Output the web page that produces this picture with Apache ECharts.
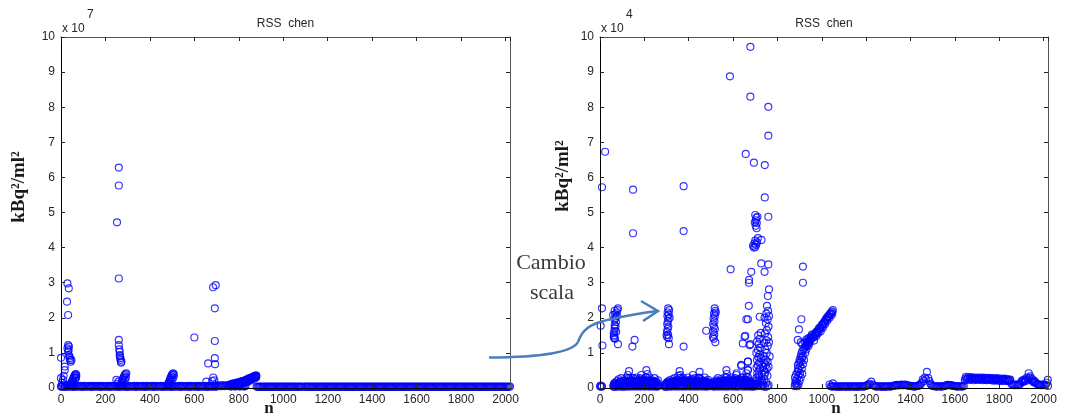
<!DOCTYPE html>
<html><head><meta charset="utf-8">
<script src="https://cdn.jsdelivr.net/npm/echarts@6/dist/echarts.min.js"></script>
<style>html,body{margin:0;padding:0;background:#fff}#c{width:1065px;height:418px}</style>
</head><body><div id="c"></div>
<script>
// ---------- texts ----------
const titleText = 'RSS  chen';
const yLabelText = 'kBq\u00B2/ml\u00B2';
const xLabelText = 'n';
const leftExp = '7';   // left values in units of 1e7
const rightExp = '4';  // right values in units of 1e4
const noteLines = ['Cambio', 'scala'];
const xMin = 0, xMax = 2020, xStep = 200;
const yMin = 0, yMax = 10, yStep = 1;

// ---------- LEFT chart data (x = n, y = value / 1e7) ----------
const leftBase = [
[0,0.04],[10,0.06],[20,0.03],[30,0.05],[40,0.04],[50,0.06],[60,0.03],[70,0.05],[80,0.04],[90,0.06],
[100,0.03],[110,0.05],[120,0.04],[130,0.06],[140,0.03],[150,0.05],[160,0.04],[170,0.06],[180,0.03],[190,0.05],
[200,0.04],[210,0.06],[220,0.03],[230,0.05],[240,0.04],[250,0.06],[260,0.03],[270,0.05],[280,0.04],[290,0.06],
[300,0.03],[310,0.05],[320,0.04],[330,0.06],[340,0.03],[350,0.05],[360,0.04],[370,0.06],[380,0.03],[390,0.05],
[400,0.04],[410,0.06],[420,0.03],[430,0.05],[440,0.04],[450,0.06],[460,0.03],[470,0.05],[480,0.04],[490,0.06],
[500,0.03],[510,0.05],[520,0.04],[530,0.06],[540,0.03],[550,0.05],[560,0.04],[570,0.06],[580,0.03],[590,0.05],
[600,0.04],[610,0.06],[620,0.03],[630,0.05],[640,0.04],[650,0.06],[660,0.03],[670,0.05],[680,0.04],[690,0.06],
[700,0.05],[710,0.07],[720,0.05],[730,0.07],[740,0.06],[750,0.08],[760,0.05],[770,0.06],[780,0.05],[790,0.06],
[800,0.05],[810,0.06],[820,0.05],[830,0.06],
[880,0.04],[890,0.03],[900,0.04],[910,0.03],[920,0.04],[930,0.03],[940,0.04],[950,0.03],[960,0.04],[970,0.03],
[980,0.04],[990,0.03],[1000,0.04],[1010,0.03],[1020,0.04],[1030,0.03],[1040,0.04],[1050,0.03],[1060,0.04],[1070,0.03],
[1080,0.04],[1090,-0.04],[1100,0.04],[1110,0.03],[1120,0.04],[1130,0.03],[1140,0.04],[1150,0.03],[1160,0.04],[1170,0.03],
[1180,0.04],[1190,0.03],[1200,0.04],[1210,0.03],[1220,0.04],[1230,0.03],[1240,0.04],[1250,0.03],[1260,0.04],[1270,0.03],
[1280,0.04],[1290,0.03],[1300,0.04],[1310,0.03],[1320,0.04],[1330,0.03],[1340,0.04],[1350,0.03],[1360,0.04],[1370,0.03],
[1380,0.04],[1390,0.03],[1400,0.04],[1410,0.03],[1420,0.04],[1430,0.03],[1440,0.04],[1450,0.03],[1460,0.04],[1470,0.03],
[1480,0.04],[1490,0.03],[1500,0.04],[1510,0.03],[1520,0.04],[1530,0.03],[1540,0.04],[1550,0.03],[1560,0.04],[1570,0.03],
[1580,0.04],[1590,0.03],[1600,0.04],[1610,0.03],[1620,0.04],[1630,0.03],[1640,0.04],[1650,0.03],[1660,0.04],[1670,0.03],
[1680,0.04],[1690,0.03],[1700,0.04],[1710,0.03],[1720,0.04],[1730,0.03],[1740,0.04],[1750,0.03],[1760,0.04],[1770,0.03],
[1780,0.04],[1790,0.03],[1800,0.04],[1810,0.03],[1820,0.04],[1830,0.03],[1840,0.04],[1850,0.03],[1860,0.04],[1870,0.03],
[1880,0.04],[1890,0.03],[1900,0.04],[1910,0.03],[1920,0.04],[1930,0.03],[1940,0.04],[1950,0.03],[1960,0.04],[1970,0.03],
[1980,0.04],[1990,0.03],[2000,0.04],[2010,0.03],[2020,0.04]
];
const leftBaseMid = [
[5,0.05],[15,0.03],[25,0.06],[35,0.04],[45,0.05],[55,0.03],[65,0.06],[75,0.04],[85,0.05],[95,0.03],
[105,0.06],[115,0.04],[125,0.05],[135,0.03],[145,0.06],[155,0.04],[165,0.05],[175,0.03],[185,0.06],[195,0.04],
[205,0.05],[215,0.03],[225,0.06],[235,0.04],[245,0.05],[255,0.03],[265,0.06],[275,0.04],[285,0.05],[295,0.03],
[305,0.06],[315,0.04],[325,0.05],[335,0.03],[345,0.06],[355,0.04],[365,0.05],[375,0.03],[385,0.06],[395,0.04],
[405,0.05],[415,0.03],[425,0.06],[435,0.04],[445,0.05],[455,0.03],[465,0.06],[475,0.04],[485,0.05],[495,0.03],
[505,0.06],[515,0.04],[525,0.05],[535,0.03],[545,0.06],[555,0.04],[565,0.05],[575,0.03],[585,0.06],[595,0.04],
[605,0.05],[615,0.03],[625,0.06],[635,0.04],[645,0.05],[655,0.03],[665,0.06],[675,0.04],[685,0.05],[695,0.03],
[705,0.06],[715,0.05],[725,0.08],[735,0.05],[745,0.07],[755,0.06],[765,0.04],[775,0.07],[785,0.04],[795,0.07],
[805,0.04],[815,0.07],[825,0.04],
[885,0.03],[895,0.04],[905,0.03],[915,0.04],[925,0.03],[935,0.04],[945,0.03],[955,0.04],[965,0.03],[975,0.04],
[985,0.03],[995,0.04],[1005,0.03],[1015,0.04],[1025,0.03],[1035,0.04],[1045,0.03],[1055,0.04],[1065,0.03],[1075,0.04],
[1085,0.03],[1095,0.04],[1105,0.03],[1115,0.04],[1125,0.03],[1135,0.04],[1145,0.03],[1155,0.04],[1165,0.03],[1175,0.04],
[1185,0.03],[1195,0.04],[1205,0.03],[1215,0.04],[1225,0.03],[1235,0.04],[1245,0.03],[1255,0.04],[1265,0.03],[1275,0.04],
[1285,0.03],[1295,0.04],[1305,0.03],[1315,0.04],[1325,0.03],[1335,0.04],[1345,0.03],[1355,0.04],[1365,0.03],[1375,0.04],
[1385,0.03],[1395,0.04],[1405,0.03],[1415,0.04],[1425,0.03],[1435,0.04],[1445,0.03],[1455,0.04],[1465,0.03],[1475,0.04],
[1485,0.03],[1495,0.04],[1505,0.03],[1515,0.04],[1525,0.03],[1535,0.04],[1545,0.03],[1555,0.04],[1565,0.03],[1575,0.04],
[1585,0.03],[1595,0.04],[1605,0.03],[1615,0.04],[1625,0.03],[1635,0.04],[1645,0.03],[1655,0.04],[1665,0.03],[1675,0.04],
[1685,0.03],[1695,0.04],[1705,0.03],[1715,0.04],[1725,0.03],[1735,0.04],[1745,0.03],[1755,0.04],[1765,0.03],[1775,0.04],
[1785,0.03],[1795,0.04],[1805,0.03],[1815,0.04],[1825,0.03],[1835,0.04],[1845,0.03],[1855,0.04],[1865,0.03],[1875,0.04],
[1885,0.03],[1895,0.04],[1905,0.03],[1915,0.04],[1925,0.03],[1935,0.04],[1945,0.03],[1955,0.04],[1965,0.03],[1975,0.04],
[1985,0.03],[1995,0.04],[2005,0.03],[2015,0.04]
];
const leftPts = [
[0,0.86],[2,0.04],[0,0.28],[9,0.23],[17,0.61],[17,0.51],[24,0.09],[5,0.15],[12,0.35],
[29,2.98],[35,2.84],[27,2.46],[32,2.08],[32,1.22],[29,1.13],[32,1.04],[35,0.94],[39,0.85],[44,0.75],[36,1.18],[38,0.9],[41,0.8],[47,0.8],[34,1.08],
[40,0.06],[43,0.1],[46,0.14],[49,0.18],[52,0.22],[55,0.27],[58,0.31],[61,0.35],[64,0.38],[67,0.4],[69,0.36],[44,0.05],[50,0.1],[56,0.15],[62,0.22],[66,0.28],[68,0.3],
[252,4.72],[260,6.28],[260,5.77],[260,3.12],[260,1.37],[260,1.22],[262,1.1],[264,1.03],[264,0.94],[266,0.9],[267,0.85],[268,0.8],[272,0.75],[270,0.72],[249,0.23],[254,0.12],[258,0.18],
[266,0.06],[269,0.1],[272,0.15],[275,0.2],[278,0.25],[281,0.29],[284,0.33],[287,0.37],[290,0.4],[294,0.42],[270,0.05],[276,0.1],[282,0.16],[288,0.24],[292,0.3],
[478,0.06],[481,0.1],[484,0.14],[487,0.19],[490,0.24],[493,0.29],[496,0.33],[499,0.37],[502,0.4],[505,0.42],[508,0.38],[482,0.05],[488,0.1],[494,0.18],[500,0.25],[506,0.3],
[600,1.44],[662,0.7],[684,2.87],[696,2.93],[692,2.27],[692,1.34],[692,0.85],[693,0.68],[654,0.18],[685,0.3],[690,0.22],[680,0.2],[695,0.1],
[760,0.09],[765,0.1],[770,0.11],[775,0.1],[780,0.12],[785,0.13],[790,0.12],[795,0.14],[800,0.15],[805,0.16],[810,0.17],[815,0.18],[820,0.19],[825,0.2],[830,0.22],[835,0.23],[840,0.24],[845,0.26],[850,0.27],[855,0.29],[860,0.3],[865,0.31],[870,0.33],[875,0.34],[879,0.35],
[800,0.1],[810,0.12],[820,0.14],[830,0.16],[840,0.18],[850,0.21],[860,0.24],[870,0.27],[878,0.3],
[762,0.07],[772,0.08],[782,0.09],[792,0.1],[802,0.12],[812,0.14],[822,0.16],[832,0.19],[842,0.21],[852,0.24],[862,0.27],[872,0.3],[876,0.32],
[767,0.12],[777,0.13],[787,0.15],[797,0.16],[807,0.18],[817,0.2],[827,0.22],[837,0.25],[847,0.28],[857,0.3],[867,0.33],[877,0.36]
];

// ---------- RIGHT chart data (x = n, y = value / 1e4) ----------
const rightBase = [
[0,0.05],[3,0.07],[6,0.03],[9,0.05],
[1035,0.1],[1040,0.05],[1050,0.04],[1060,0.05],[1070,0.03],[1080,0.05],[1090,0.04],[1100,0.05],[1110,0.03],[1120,0.05],[1130,0.04],
[1140,0.05],[1150,0.03],[1160,0.05],[1170,0.04],[1180,0.05],[1190,0.04],[1200,0.06],[1210,0.1],[1215,0.12],[1223,0.18],[1230,0.1],[1240,0.05],
[1250,0.04],[1260,0.05],[1270,0.03],[1280,0.05],[1290,0.04],[1300,0.05],[1310,0.04],[1320,0.06],[1330,0.07],[1340,0.09],[1350,0.08],[1360,0.1],
[1370,0.08],[1380,0.09],[1390,0.07],[1400,0.06],[1410,0.05],[1420,0.04],[1430,0.06],[1440,0.08],[1450,0.15],[1456,0.25],[1460,0.2],[1465,0.3],
[1470,0.25],[1474,0.46],[1480,0.28],[1485,0.2],[1490,0.12],[1500,0.06],[1510,0.05],[1520,0.04],[1530,0.05],[1540,0.04],[1550,0.05],[1560,0.07],
[1570,0.09],[1580,0.08],[1590,0.07],[1600,0.05],[1610,0.04],[1620,0.05],[1630,0.04],[1640,0.06],
[1645,0.22],[1650,0.32],[1655,0.25],[1660,0.3],[1665,0.23],[1670,0.31],[1675,0.24],[1680,0.3],[1685,0.22],[1690,0.3],[1695,0.24],[1700,0.29],
[1705,0.23],[1710,0.3],[1715,0.24],[1720,0.29],[1725,0.22],[1730,0.3],[1735,0.23],[1740,0.28],[1745,0.22],[1750,0.29],[1755,0.23],[1760,0.28],
[1765,0.22],[1770,0.28],[1775,0.21],[1780,0.27],[1785,0.22],[1790,0.28],[1795,0.21],[1800,0.27],[1805,0.2],[1810,0.26],[1815,0.21],[1820,0.27],
[1825,0.2],[1830,0.26],[1835,0.2],[1840,0.25],[1845,0.2],[1850,0.24],
[1860,0.1],[1870,0.08],[1880,0.1],[1890,0.09],[1900,0.18],[1905,0.22],[1910,0.2],[1915,0.25],[1920,0.2],[1925,0.3],[1933,0.42],[1940,0.33],
[1945,0.22],[1950,0.25],[1955,0.18],[1960,0.2],[1970,0.12],[1980,0.1],[1990,0.08],[2000,0.1],[2010,0.09],[2015,0.15],[2019,0.23],[2020,0.06]
];
const rightBaseMid = [
[1045,0.04],[1055,0.05],[1065,0.04],[1075,0.05],[1085,0.03],[1095,0.05],[1105,0.04],[1115,0.05],[1125,0.03],[1135,0.05],[1145,0.04],
[1155,0.05],[1165,0.03],[1175,0.05],[1185,0.04],[1195,0.05],[1205,0.08],[1235,0.07],[1245,0.04],[1255,0.05],[1265,0.04],[1275,0.05],
[1285,0.03],[1295,0.05],[1305,0.04],[1315,0.05],[1325,0.06],[1335,0.08],[1345,0.07],[1355,0.09],[1365,0.08],[1375,0.1],[1385,0.07],
[1395,0.06],[1405,0.05],[1415,0.04],[1425,0.05],[1435,0.06],[1445,0.1],[1495,0.08],[1505,0.05],[1515,0.04],[1525,0.05],[1535,0.04],
[1545,0.05],[1555,0.06],[1565,0.08],[1575,0.08],[1585,0.07],[1595,0.06],[1605,0.05],[1615,0.04],[1625,0.05],[1635,0.04],
[1648,0.27],[1658,0.28],[1668,0.27],[1678,0.27],[1688,0.26],[1698,0.27],[1708,0.26],[1718,0.26],[1728,0.26],[1738,0.25],[1748,0.26],
[1758,0.25],[1768,0.25],[1778,0.24],[1788,0.25],[1798,0.24],[1808,0.23],[1818,0.24],[1828,0.23],[1838,0.22],[1848,0.22],
[1855,0.12],[1865,0.09],[1875,0.1],[1885,0.08],[1895,0.12],[1908,0.17],[1918,0.22],[1928,0.25],[1938,0.28],[1950,0.2],[1958,0.16],
[1965,0.14],[1975,0.1],[1985,0.09],[1995,0.1],[2005,0.08]
];
const rightBlob1 = [
[60,0.04],[64,0.1],[66,0.03],[70,0.15],[72,0.05],[76,0.2],[78,0.04],[82,0.12],[84,0.25],[86,0.05],[90,0.18],[92,0.04],[96,0.28],[98,0.1],
[100,0.05],[104,0.2],[106,0.03],[110,0.14],[112,0.22],[114,0.05],[118,0.1],[120,0.3],[122,0.04],[126,0.37],[128,0.15],[130,0.05],[131,0.48],
[134,0.22],[136,0.04],[140,0.3],[142,0.12],[144,0.05],[148,0.2],[150,0.28],[152,0.04],[156,0.15],[158,0.25],[160,0.05],[164,0.3],[166,0.1],
[168,0.04],[172,0.22],[174,0.12],[176,0.05],[180,0.28],[182,0.15],[184,0.04],[186,0.37],[188,0.2],[192,0.1],[194,0.05],[198,0.25],[200,0.14],
[202,0.04],[206,0.3],[209,0.51],[210,0.15],[212,0.05],[214,0.4],[216,0.22],[218,0.1],[220,0.04],[224,0.3],[226,0.15],[228,0.05],[232,0.22],
[234,0.1],[236,0.04],[240,0.2],[242,0.12],[244,0.05],[246,0.28],[248,0.15],[250,0.04],[254,0.18],[256,0.08],[258,0.04],[261,0.22],[262,0.05],
[61,0.08],[65,0.14],[69,0.08],[73,0.1],[77,0.12],[81,0.07],[85,0.15],[89,0.1],[93,0.13],[97,0.18],[101,0.1],[105,0.12],[109,0.08],[113,0.15],
[117,0.18],[121,0.1],[125,0.2],[129,0.28],[133,0.12],[137,0.16],[141,0.2],[145,0.12],[149,0.15],[153,0.1],[157,0.18],[161,0.14],[165,0.2],
[169,0.12],[173,0.16],[177,0.2],[181,0.1],[185,0.24],[189,0.14],[193,0.18],[197,0.12],[201,0.2],[205,0.16],[209,0.3],[213,0.2],[217,0.14],
[221,0.18],[225,0.2],[229,0.12],[233,0.16],[237,0.1],[241,0.14],[245,0.18],[249,0.1],[253,0.12],[257,0.14],[260,0.1]
];
const rightBlob2 = [
[291,0.04],[294,0.1],[297,0.03],[300,0.15],[302,0.05],[306,0.18],[308,0.04],[312,0.12],[314,0.22],[316,0.05],[320,0.15],[322,0.04],[326,0.25],
[328,0.1],[330,0.05],[334,0.2],[337,0.28],[339,0.04],[342,0.14],[345,0.22],[347,0.05],[350,0.12],[353,0.35],[355,0.04],[359,0.48],[360,0.2],
[362,0.37],[364,0.05],[368,0.25],[370,0.12],[372,0.04],[376,0.28],[378,0.15],[380,0.05],[384,0.22],[386,0.1],[388,0.04],[392,0.2],[394,0.12],
[397,0.3],[399,0.05],[403,0.18],[405,0.1],[407,0.04],[411,0.25],[413,0.14],[415,0.05],[419,0.37],[421,0.2],[423,0.08],[425,0.04],[429,0.28],
[431,0.15],[433,0.05],[437,0.22],[439,0.1],[441,0.04],[445,0.3],[449,0.46],[450,0.18],[452,0.05],[456,0.25],[458,0.12],[460,0.04],[464,0.2],
[466,0.1],[468,0.05],[472,0.3],[474,0.15],[476,0.04],[480,0.18],[482,0.08],[484,0.04],[487,0.23],[489,0.1],[492,0.05],[494,0.12],
[293,0.08],[298,0.1],[303,0.12],[309,0.15],[313,0.08],[318,0.12],[323,0.18],[327,0.14],[332,0.1],[336,0.16],[341,0.2],[344,0.1],[349,0.18],
[352,0.22],[357,0.15],[361,0.28],[366,0.18],[371,0.2],[375,0.12],[379,0.22],[383,0.14],[387,0.18],[391,0.12],[396,0.16],[401,0.22],[406,0.14],
[410,0.18],[414,0.1],[418,0.25],[422,0.14],[427,0.2],[432,0.12],[436,0.16],[440,0.2],[444,0.12],[448,0.28],[453,0.16],[457,0.2],[462,0.14],
[467,0.18],[471,0.12],[475,0.2],[479,0.1],[483,0.14],[488,0.16],[491,0.08]
];
const rightBlob3 = [
[505,0.05],[508,0.12],[511,0.04],[514,0.18],[516,0.08],[519,0.04],[522,0.15],[524,0.22],[527,0.05],[530,0.12],[532,0.28],[535,0.04],[538,0.18],
[540,0.1],[543,0.05],[546,0.25],[548,0.14],[551,0.04],[554,0.2],[556,0.1],[559,0.05],[562,0.3],[564,0.15],[567,0.04],[570,0.51],[572,0.4],
[573,0.2],[575,0.08],[578,0.04],[581,0.25],[583,0.12],[586,0.05],[589,0.18],[592,0.3],[594,0.1],[597,0.04],[600,0.22],[602,0.12],[605,0.05],
[608,0.28],[610,0.15],[613,0.04],[615,0.37],[616,0.42],[618,0.2],[620,0.08],[623,0.04],[626,0.25],[628,0.12],[631,0.05],[634,0.2],[637,0.63],
[639,0.3],[641,0.1],[643,0.04],[645,0.3],[647,0.15],[650,0.05],[653,0.22],[655,0.1],[658,0.04],[660,0.42],[661,0.32],[663,0.15],[665,0.05],
[667,0.51],[667,0.75],[669,0.2],[671,0.08],[674,0.04],[676,0.2],[678,0.1],[681,0.05],[684,0.15],[686,0.04],[690,0.1],[693,0.04],[696,0.12],
[699,0.05],[702,0.08],[637,0.66],
[507,0.08],[512,0.1],[517,0.14],[521,0.1],[526,0.16],[531,0.2],[536,0.12],[541,0.16],[545,0.12],[549,0.2],[553,0.12],[557,0.18],[561,0.22],
[566,0.14],[571,0.3],[576,0.16],[580,0.12],[584,0.18],[588,0.1],[591,0.22],[596,0.14],[599,0.1],[603,0.18],[607,0.12],[611,0.2],[614,0.24],
[619,0.14],[622,0.18],[627,0.16],[632,0.12],[636,0.24],[640,0.18],[644,0.14],[648,0.22],[652,0.12],[656,0.18],[659,0.24],[664,0.1],[668,0.3],
[672,0.14],[677,0.16],[682,0.1],[687,0.12],[692,0.08],[697,0.06]
];
const rightPts = [
[9,5.72],[23,6.73],[9,2.27],[3,1.77],[11,1.21],
[59,2.08],[62,1.46],[62,1.56],[66,2.2],[66,1.95],[66,1.8],[66,1.7],[66,1.62],[64,1.5],[64,1.42],[68,2.1],[70,2.0],[72,1.88],[75,2.15],[78,2.22],
[81,2.27],[81,1.25],[70,1.75],[73,1.6],[76,2.05],[68,1.4],
[149,5.65],[149,4.41],[146,1.18],[156,1.37],
[307,2.27],[312,2.22],[305,2.15],[310,2.1],[304,2.05],[309,1.98],[306,1.9],[303,1.82],[308,1.75],[305,1.68],[302,1.6],[307,1.52],[303,1.45],
[310,1.42],[300,1.5],[311,1.25],[314,2.0],
[377,5.75],[377,4.47],[377,1.18],
[517,2.27],[520,2.2],[514,2.12],[518,2.05],[512,1.98],[516,1.9],[510,1.82],[514,1.75],[518,1.68],[511,1.6],[515,1.52],[509,1.45],[520,1.3],
[513,1.4],[479,1.63],[522,2.15],
[586,8.88],[589,3.38],
[657,6.67],[678,9.72],[678,8.3],[694,6.42],[743,6.35],[743,5.43],[759,8.01],[759,7.19],[759,4.88],
[700,4.93],[705,4.85],[703,4.78],[707,4.7],[702,4.62],[706,4.55],[710,4.88],[698,4.72],
[690,4.05],[694,4.0],[697,4.12],[700,4.2],[704,4.08],[708,4.15],[712,4.27],[728,4.22],[700,4.02],
[727,3.55],[759,3.52],[742,3.31],[682,3.31],[672,3.08],[672,3.0],[762,2.81],[757,2.62],[753,2.34],[671,2.34],[720,2.03],[667,1.96],[660,1.96],
[652,1.46],[644,1.27],[675,1.22],[678,1.25],[655,1.49],[667,0.75],[667,0.51],
[708,0.12],[712,0.2],[705,0.28],[714,0.35],[709,0.42],[716,0.5],[706,0.58],[712,0.65],[718,0.72],[708,0.8],[714,0.88],[720,0.95],[705,1.0],
[712,1.08],[722,1.15],[716,1.25],[708,1.32],[720,1.4],[713,1.5],[725,1.57],[718,0.3],[722,0.55],[702,0.2],[725,0.85],
[735,0.6],[742,0.7],[748,0.8],[738,0.9],[752,1.0],[745,1.1],[756,1.2],[740,1.28],[750,1.36],[758,1.45],[744,1.55],[752,1.65],[760,1.75],
[748,1.85],[756,1.95],[762,2.05],[750,2.12],[758,2.2],[745,0.45],[755,0.35],[740,0.25],[760,0.6],[730,0.4],[750,0.15],[735,0.1],[725,0.05],
[745,0.03],[760,0.08],[765,0.9],[762,1.3],[742,2.0],
[710,0.05],[715,0.1],[720,0.18],[728,0.22],[732,0.15],[738,0.05],[755,0.05],[742,0.38],[752,0.55],[748,0.65],[756,0.75],[740,0.5],
[915,3.46],[915,3.0],[908,1.96],[897,1.67],[892,1.37],[905,1.3],[912,1.25],
[878,0.05],[880,0.12],[882,0.2],[879,0.3],[885,0.08],[888,0.25],[884,0.38],[890,0.45],[887,0.15],[893,0.55],[895,0.35],[892,0.65],[898,0.72],
[896,0.5],[900,0.8],[903,0.62],[905,0.9],[902,0.42],[908,0.98],[906,0.75],[910,0.55],[912,1.05],[910,0.85],[915,0.68],[918,1.1],[915,0.9],
[920,0.8],[922,1.15],[925,1.0],[928,1.2],[930,1.1],[935,1.25],[940,1.2],[944,1.3],[890,0.05],[895,0.1],[900,0.2],[905,0.3],[912,0.4],
[925,1.3],[930,1.38],[935,1.33],[940,1.42],[945,1.36],[950,1.45],[955,1.4],[960,1.5],[965,1.45],[970,1.55],[975,1.6],[980,1.58],[985,1.68],
[990,1.72],[995,1.7],[1000,1.8],[1005,1.82],[1010,1.88],[1015,1.92],[1020,1.98],[1025,2.02],[1030,2.05],[1035,2.1],[1040,2.13],[1045,2.18],
[1050,2.22],[935,1.22],[945,1.28],[955,1.52],[965,1.35],[975,1.48],[985,1.57],[995,1.62],[1005,1.72],[1015,1.82],[1025,1.92],[1035,2.0],
[1045,2.08],[1050,0.13],
[932,1.3],[942,1.35],[952,1.42],[962,1.46],[972,1.52],[982,1.62],[992,1.68],[1002,1.76],[1012,1.85],[1022,1.95],[1032,2.04],[1042,2.12],[1048,2.15]
];

// ---------- chart ----------
const chart = echarts.init(document.getElementById('c'), null, {renderer: 'canvas', width: 1065, height: 418});
const txtCol = '#262626';
const grids = [
  {left: 61, top: 37, width: 449, height: 351},
  {left: 600, top: 37, width: 448, height: 351}
];
function xAxes(gi) {
  const base = {gridIndex: gi, type: 'value', min: xMin, max: xMax, interval: xStep, splitLine: {show: false}, z: 10,
    axisTick: {inside: true, length: 4, lineStyle: {color: txtCol}}};
  return [
    Object.assign({}, base, {position: 'bottom', axisLine: {onZero: false, lineStyle: {color: '#000', width: 1}},
      axisLabel: {color: txtCol, fontSize: 12, fontFamily: 'Liberation Sans', margin: 6, showMaxLabel: false,
        formatter: function (v) { return String(v); }}}),
    Object.assign({}, base, {position: 'top', axisLine: {onZero: false, lineStyle: {color: '#555', width: 1}}, axisLabel: {show: false}})
  ];
}
function yAxes(gi) {
  const base = {gridIndex: gi, type: 'value', min: yMin, max: yMax, interval: yStep, splitLine: {show: false}, z: 10,
    axisTick: {inside: true, length: 4, lineStyle: {color: txtCol}}};
  return [
    Object.assign({}, base, {position: 'left', axisLine: {onZero: false, lineStyle: {color: '#000', width: 1}},
      axisLabel: {color: txtCol, fontSize: 12, fontFamily: 'Liberation Sans', margin: 6,
        formatter: function (v) { return String(v); }}}),
    Object.assign({}, base, {position: 'right', axisLine: {onZero: false, lineStyle: {color: '#555', width: 1}}, axisLabel: {show: false}})
  ];
}
const markerStyle = {color: 'rgba(0,0,0,0)', borderColor: '#0000ff', borderWidth: 1.15};
function txt(x, y, text, font, opts) {
  return Object.assign({type: 'text', x: x, y: y, silent: true,
    style: Object.assign({text: text, font: font, fill: txtCol, textAlign: 'center', textVerticalAlign: 'middle'}, (opts && opts.style) || {})},
    (opts && opts.el) || {});
}
const arrowCol = '#4a7ebb';
const graphics = [
  txt(285.5, 24, titleText, '12px "Liberation Sans"'),
  txt(824, 24, titleText, '12px "Liberation Sans"'),
  txt(62, 29, 'x 10', '12px "Liberation Sans"', {style: {textAlign: 'left'}}),
  txt(87, 15, leftExp, '12px "Liberation Sans"', {style: {textAlign: 'left'}}),
  txt(601, 29, 'x 10', '12px "Liberation Sans"', {style: {textAlign: 'left'}}),
  txt(626, 15, rightExp, '12px "Liberation Sans"', {style: {textAlign: 'left'}}),
  txt(19, 187, yLabelText, 'bold 19px "Liberation Serif"', {el: {rotation: Math.PI / 2}, style: {fill: '#1a1a1a'}}),
  txt(563, 176, yLabelText, 'bold 19px "Liberation Serif"', {el: {rotation: Math.PI / 2}, style: {fill: '#1a1a1a'}}),
  txt(269, 409, xLabelText, 'bold 17px "Liberation Serif"', {style: {fill: '#1a1a1a'}}),
  txt(836, 409, xLabelText, 'bold 17px "Liberation Serif"', {style: {fill: '#1a1a1a'}}),
  txt(551, 263, noteLines[0], '22px "Liberation Serif"', {style: {fill: '#3a3a3a'}}),
  txt(552, 293, noteLines[1], '22px "Liberation Serif"', {style: {fill: '#3a3a3a'}}),
  {type: 'bezierCurve', silent: true, z: 100, shape: {x1: 489, y1: 357.5, cpx1: 540, cpy1: 357, cpx2: 572, cpy2: 353, x2: 578, y2: 342},
    style: {stroke: arrowCol, lineWidth: 2.5, fill: null}},
  {type: 'bezierCurve', silent: true, z: 100, shape: {x1: 578, y1: 342, cpx1: 582, cpy1: 330, cpx2: 590, cpy2: 324, x2: 607, y2: 320},
    style: {stroke: arrowCol, lineWidth: 2.5, fill: null}},
  {type: 'bezierCurve', silent: true, z: 100, shape: {x1: 607, y1: 320, cpx1: 625, cpy1: 316, cpx2: 640, cpy2: 313, x2: 657, y2: 311},
    style: {stroke: arrowCol, lineWidth: 2.5, fill: null}},
  {type: 'polyline', silent: true, z: 100, shape: {points: [[641, 301], [658, 311], [643, 321]]},
    style: {stroke: arrowCol, lineWidth: 2.5, fill: null}}
];
chart.setOption({
  animation: false,
  backgroundColor: '#fff',
  grid: grids,
  xAxis: xAxes(0).concat(xAxes(1)),
  yAxis: yAxes(0).concat(yAxes(1)),
  series: [
    {type: 'scatter', xAxisIndex: 0, yAxisIndex: 0, symbol: 'circle', symbolSize: 7, itemStyle: markerStyle, silent: true,
      data: leftBase.concat(leftBaseMid, leftPts)},
    {type: 'scatter', xAxisIndex: 2, yAxisIndex: 2, symbol: 'circle', symbolSize: 7, itemStyle: markerStyle, silent: true,
      data: rightBase.concat(rightBaseMid, rightBlob1, rightBlob2, rightBlob3, rightPts)}
  ],
  graphic: graphics
});
</script></body></html>
